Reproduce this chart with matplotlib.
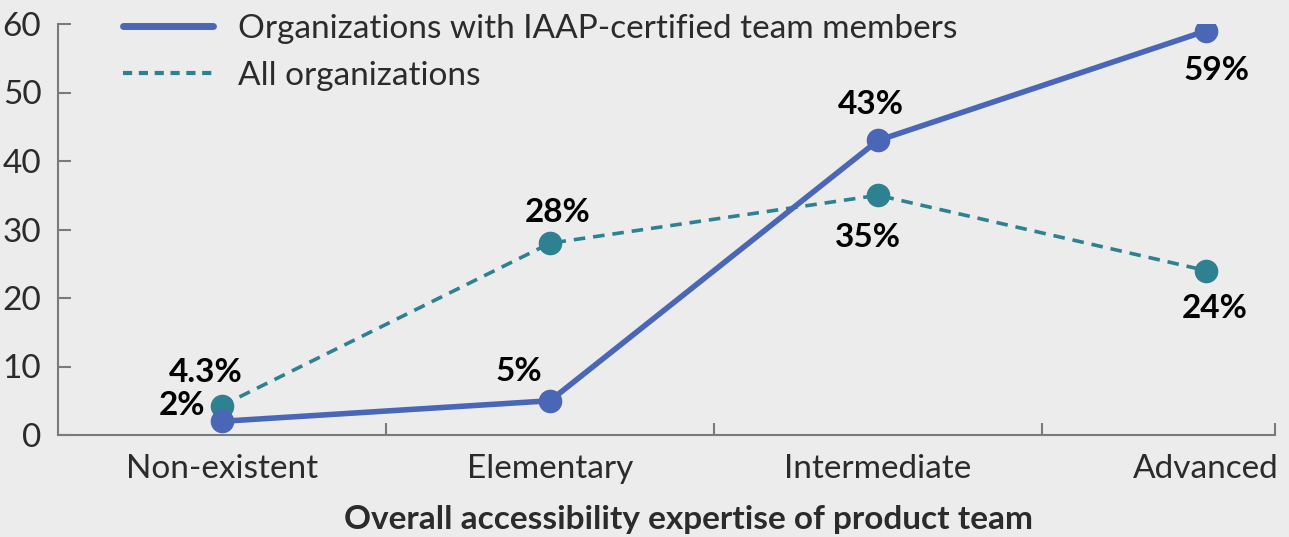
import matplotlib
matplotlib.use("Agg")
import matplotlib.pyplot as plt
from matplotlib.lines import Line2D

categories = ["Non-existent", "Elementary", "Intermediate", "Advanced"]
certified = [2, 5, 43, 59]
all_orgs = [4.3, 28, 35, 24]
certified_labels = ["2%", "5%", "43%", "59%"]
all_labels = ["4.3%", "28%", "35%", "24%"]
series_names = ["Organizations with IAAP-certified team members", "All organizations"]
yticks = [0, 10, 20, 30, 40, 50, 60]

BG = "#ececec"
BLUE = "#4a66b6"
TEAL = "#2e8190"
SPINE = "#7a7a7a"
TXT = "#2b2b2b"

plt.rcParams["font.family"] = ["Lato", "DejaVu Sans"]

fig = plt.figure(figsize=(12.89, 5.37), dpi=100, facecolor=BG)
ax = fig.add_axes([58/1289, 1-435/537, (1275-58)/1289, (435-24)/537])
ax.set_facecolor(BG)

x = list(range(len(categories)))
ax.plot(x, certified, color=BLUE, lw=4, marker="o", ms=16, zorder=4,
        solid_capstyle="round")
ax.plot(x, all_orgs, color=TEAL, lw=2.6, ls=(0, (3.2, 2.2)), marker="o", ms=16,
        zorder=3)

cert_off = [(-40, 16), (-31, 29), (-7, 36), (10, -40)]
all_off = [(-16, 33), (8, 31), (-10, -42), (9, -38)]
for xi, v, lab, off in zip(x, certified, certified_labels, cert_off):
    ax.annotate(lab, (xi, v), xytext=off, textcoords="offset pixels",
                ha="center", va="center", fontsize=24, fontweight="bold",
                color="black", zorder=5)
for xi, v, lab, off in zip(x, all_orgs, all_labels, all_off):
    ax.annotate(lab, (xi, v), xytext=off, textcoords="offset pixels",
                ha="center", va="center", fontsize=24, fontweight="bold",
                color="black", zorder=5)

ax.set_xlim(-0.5, 3.21)
ax.set_ylim(0, 60)
ax.set_yticks(yticks)
ax.set_yticklabels([str(t) for t in yticks], fontsize=24, color=TXT)
ax.set_xticks(x)
ax.set_xticklabels(categories, fontsize=24, color=TXT)
ax.set_xticks([0.5, 1.5, 2.5, 3.21], minor=True)
ax.tick_params(axis="x", which="major", length=0, pad=14)
ax.tick_params(axis="x", which="minor", length=9, width=1.5, color=SPINE, direction="in")
ax.tick_params(axis="y", length=9, width=1.5, color=SPINE, direction="in", pad=12)
for s in ["top", "right"]:
    ax.spines[s].set_visible(False)
for s in ["left", "bottom"]:
    ax.spines[s].set_color(SPINE)
    ax.spines[s].set_linewidth(1.5)
ax.spines["bottom"].set_zorder(1)

ax.set_xlabel("Overall accessibility expertise of product team", fontsize=24,
              fontweight="bold", color=TXT)
ax.xaxis.set_label_coords((688 - 58) / (1275 - 58), -(520 - 435) / (435 - 24))
ax.xaxis.label.set_va("center")

handles = [Line2D([], [], color=BLUE, lw=5, solid_capstyle="round"),
           Line2D([], [], color=TEAL, lw=3, ls=(0, (2.2, 1.6)))]
fig.legend(handles, series_names, loc="upper left",
           bbox_to_anchor=(123/1289, 1-14/537), frameon=False, fontsize=24,
           handlelength=2.7, handletextpad=0.75, labelspacing=0.5,
           borderpad=0, borderaxespad=0, labelcolor=TXT)

fig.savefig("out.png", dpi=100, facecolor=BG)
